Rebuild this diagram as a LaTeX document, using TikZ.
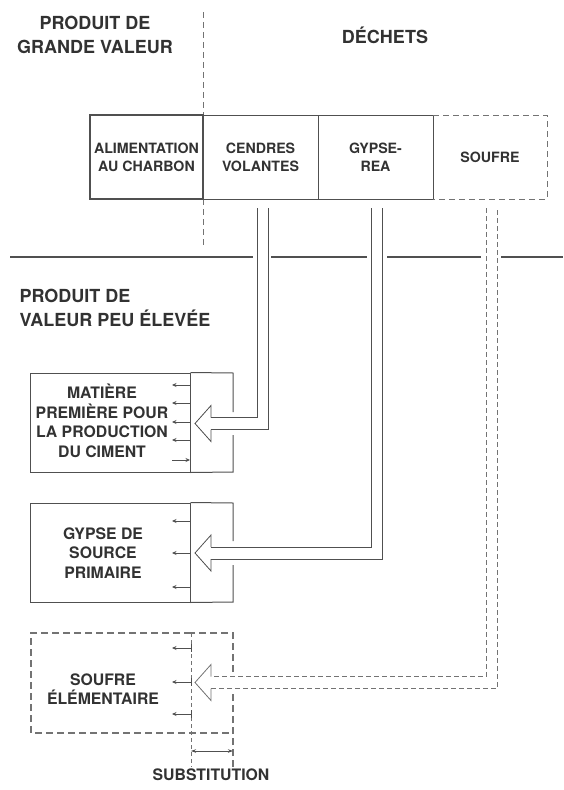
\documentclass[tikz,border=0pt]{standalone}
\usepackage{fontspec}
\setmainfont{TeX Gyre Heros}
\usepackage{xcolor}
\definecolor{inkGray}{RGB}{50, 50, 50}
\definecolor{lineGray}{RGB}{80, 80, 80}
\definecolor{dashGray}{RGB}{115, 115, 115}
\usepackage{tikz}
\usetikzlibrary{arrows.meta}

\tikzset{
  headText/.style={text=inkGray, font=\bfseries\fontsize{18}{24}\selectfont},
  wasteCell/.style={draw=lineGray, line width=1pt, minimum height=84pt, inner sep=0pt,
    align=center, text=inkGray, font=\bfseries\fontsize{14.2}{18}\selectfont},
  lowBox/.style={draw=lineGray, line width=1pt, minimum width=160pt, inner sep=0pt},
  boxText/.style={align=center, text=inkGray, font=\bfseries\fontsize{15.8}{19.5}\selectfont},
  dashLine/.style={dashGray, line width=1pt, dash pattern=on 6pt off 4pt},
  smallArrow/.style={lineGray, line width=0.9pt, -{Stealth[length=4.5pt,width=4pt]}}
}

% hollow arrow: inner x of the pipe, middle y of the shaft; the head is always solid
\newcommand\pipeArrow[3][]{%
  \fill[white] (#2,208) -- (#2,#3-6) -- (211,#3-6) -- (211,#3-18) -- (195,#3)
    -- (211,#3+18) -- (211,#3+6) -- (#2+11,#3+6) -- (#2+11,208) -- cycle;
  \draw[lineGray, line width=0.8pt, #1]
    (#2,208) -- (#2,#3-6) -- (211,#3-6) (211,#3+6) -- (#2+11,#3+6) -- (#2+11,208);
  \draw[lineGray, line width=0.8pt, #1, solid]
    (211,#3-6) -- (211,#3-18) -- (195,#3) -- (211,#3+18) -- (211,#3+6);
}

\begin{document}
\begin{tikzpicture}[x=1pt, y=-1pt]
    \useasboundingbox (0,0) rectangle (563,790);

    \node[headText, align=center] (grande) at (95,35) {PRODUIT DE\\GRANDE VALEUR};
    \node[headText] (dechets) at (385,35) {DÉCHETS};
    \node[headText, align=left, anchor=west] (peu) at (16,308) {PRODUIT DE\\VALEUR PEU ÉLEVÉE};

    \draw[dashLine, line width=0.8pt] (203,12) -- (203,115) (203,199) -- (203,247);
    \draw[lineGray, line width=2.6pt] (10,257) -- (253,257) (271,257) -- (367,257)
        (387,257) -- (481,257) (501,257) -- (563,257);

    % waste cells
    \node[wasteCell, minimum width=115pt] (cendres) at (260.5,157) {CENDRES\\VOLANTES};
    \node[wasteCell, minimum width=115pt] (gypse) at (375.5,157) {GYPSE-\\REA};
    \node[wasteCell, draw=none, minimum width=114pt] (soufre) at (490,157) {SOUFRE};
    \draw[dashLine] (433,115) -- (547,115) -- (547,199) -- (433,199);
    \node[wasteCell, line width=2.4pt, minimum width=113pt] (charbon) at (146.5,157) {ALIMENTATION\\AU CHARBON};

    % low value boxes
    \node[lowBox, minimum height=99pt] (ciment) at (110,422.5) {};
    \node[boxText] (cimentTxt) at (102,421) {MATIÈRE\\PREMIÈRE POUR\\LA PRODUCTION\\DU CIMENT};
    \draw[lineGray, line width=1pt] (ciment.north east) -- (233,373) -- (233,412)
        (233,435) -- (233,472) -- (ciment.south east);

    \node[lowBox, minimum height=99pt] (primaire) at (110,552.5) {};
    \node[boxText] (primaireTxt) at (103,553) {GYPSE DE\\SOURCE\\PRIMAIRE};
    \draw[lineGray, line width=1pt] (primaire.north east) -- (233,503) -- (233,541)
        (233,565) -- (233,602) -- (primaire.south east);

    \draw[dashLine, line width=1.3pt, dash pattern=on 7pt off 4pt]
        (191,633) -- (31,633) -- (31,733) -- (233,733) (233,767) -- (233,693)
        (233,672) -- (233,633) -- (191,633);
    \draw[dashLine, line width=0.8pt, dash pattern=on 4pt off 3pt] (191,633) -- (191,767);
    \node[boxText] (elementaire) at (103,689) {SOUFRE\\ÉLÉMENTAIRE};

    % pipes
    \pipeArrow{257}{423.5}
    \pipeArrow{371}{553}
    \pipeArrow[dashGray, dash pattern=on 5pt off 3pt]{486}{682.5}

    % small arrows
    \foreach \y in {385,403,422,440}
        \draw[smallArrow] (190,\y) -- (172,\y);
    \draw[smallArrow] (172,460) -- (190,460);
    \foreach \y in {521,553,587}
        \draw[smallArrow] (190,\y) -- (172,\y);
    \foreach \y in {648,682,714} {
        \draw[smallArrow] (191,\y) -- (172,\y);
        \draw[lineGray, line width=0.8pt] (191,\y-4) -- (191,\y+4);
    }

    \draw[lineGray, line width=0.8pt, {Stealth[length=5pt,width=3.5pt]}-{Stealth[length=5pt,width=3.5pt]}]
        (191,751) -- (233,751);
    \node[boxText] (substitution) at (211,775) {SUBSTITUTION};
\end{tikzpicture}
\end{document}
